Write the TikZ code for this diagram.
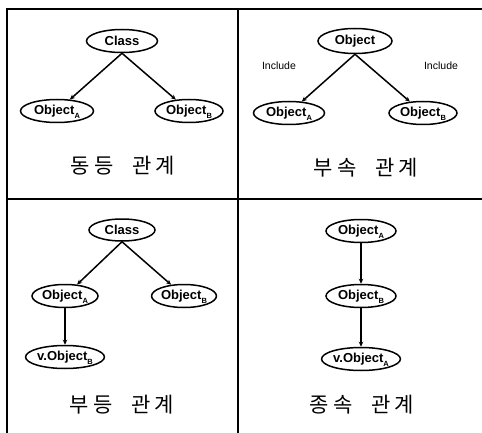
\documentclass[tikz,border=0pt]{standalone}
\usepackage{fontspec}
\setsansfont{Liberation Sans}
\newfontfamily\kor{Noto Sans CJK KR}
\usetikzlibrary{arrows.meta,shapes.geometric}
\newcommand\osub[1]{\raisebox{-4pt}[0pt][0pt]{\fontsize{7.5}{8}\selectfont #1}}
\newcommand\kt[4]{#1\kern4pt#2\hspace{19pt}#3\kern4pt#4}
\begin{document}
\begin{tikzpicture}[x=1pt,y=-1pt,
  obj/.style={ellipse,draw,line width=1.5pt,inner sep=0pt,minimum width=68pt,minimum height=23pt,font=\sffamily\bfseries\fontsize{13}{15}\selectfont},
  link/.style={line width=1.5pt,-{Stealth[length=5pt,width=4.5pt]}},
  frame/.style={line width=1.4pt},
  title/.style={font=\kor\fontsize{21}{24}\selectfont},
  lbl/.style={font=\sffamily\fontsize{10.5}{12}\selectfont}]
\useasboundingbox (0,0) rectangle (482,433);
% frame
\draw[frame] (7,433) -- (7,9) -- (482,9);
\draw[frame] (238,9) -- (238,433);
\draw[frame] (7,199) -- (482,199);
% top-left
\node[obj,minimum width=71pt,minimum height=23pt] (c1) at (122,41) {Class};
\node[obj,minimum width=73pt] (a1) at (57,111) {Object\osub{A}};
\node[obj,minimum width=68pt] (b1) at (189,111) {Object\osub{B}};
\draw[link] (c1.south) -- (a1);
\draw[link] (c1.south) -- (b1);
\node[title] (t1) at (123,166) {\kt{동}{등}{관}{계}};
% top-right
\node[obj,minimum width=74pt,minimum height=25pt] (c2) at (355,41) {Object};
\node[obj,minimum width=71pt] (a2) at (289,113) {Object\osub{A}};
\node[obj,minimum width=68pt] (b2) at (423,113) {Object\osub{B}};
\draw[link] (c2.south) -- (a2);
\draw[link] (c2.south) -- (b2);
\node[lbl] (i1) at (279,66) {Include};
\node[lbl] (i2) at (441,66) {Include};
\node[title] (t2) at (366,168) {\kt{부}{속}{관}{계}};
% bottom-left
\node[obj,minimum width=66pt,minimum height=22pt] (c3) at (122,230) {Class};
\node[obj,minimum width=66pt] (a3) at (65,296) {Object\osub{A}};
\node[obj,minimum width=60pt] (b3) at (184,296) {Object\osub{B}};
\node[obj,minimum width=66pt] (v3) at (65,357) {v.Object\osub{B}};
\draw[link] (c3.south) -- (a3);
\draw[link] (c3.south) -- (b3);
\draw[link] (a3) -- (v3);
\node[title] (t3) at (122,405) {\kt{부}{등}{관}{계}};
% bottom-right
\node[obj,minimum width=70pt] (a4) at (361,231) {Object\osub{A}};
\node[obj,minimum width=70pt] (b4) at (361,296) {Object\osub{B}};
\node[obj,minimum width=70pt] (v4) at (361,359) {v.Object\osub{A}};
\draw[link] (a4) -- (b4);
\draw[link] (b4) -- (v4);
\node[title] (t4) at (362,405) {\kt{종}{속}{관}{계}};
\end{tikzpicture}
\end{document}
